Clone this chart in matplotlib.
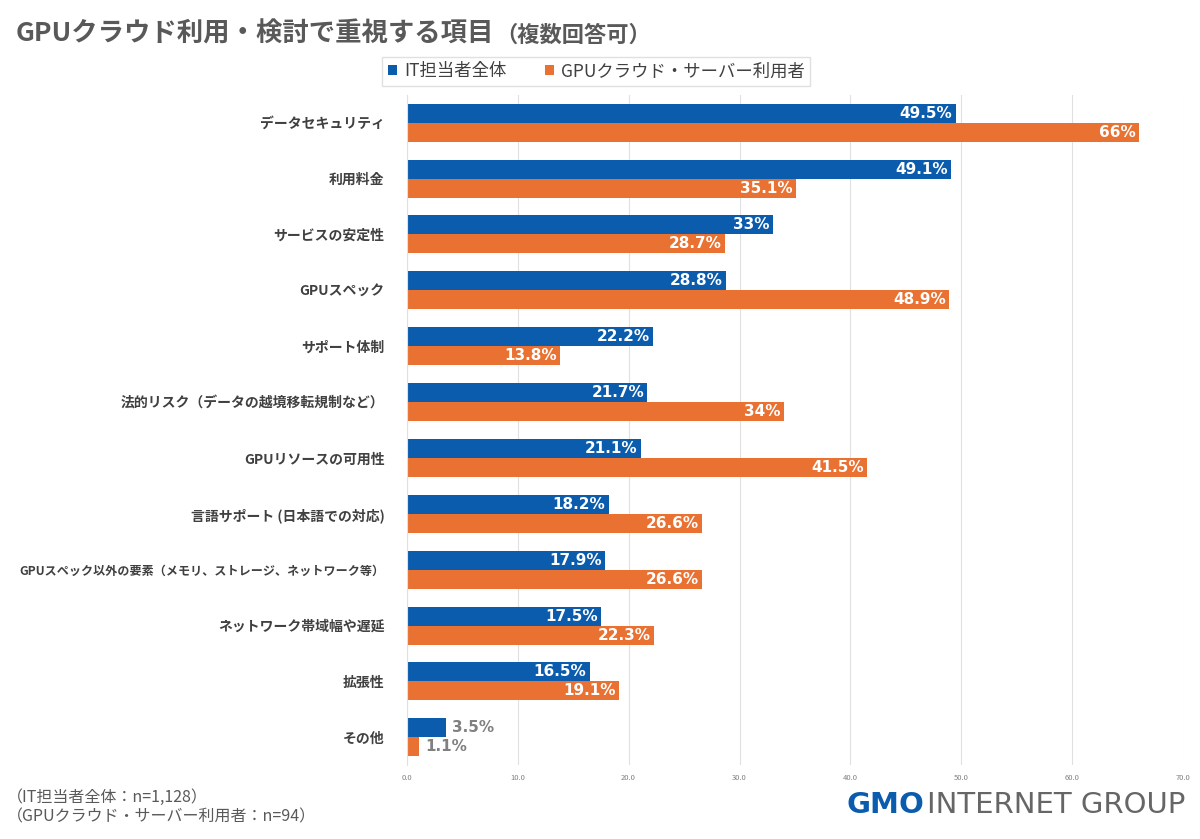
import numpy as np
import matplotlib.pyplot as plt

plt.rcParams['font.family'] = ['Noto Sans CJK JP', 'DejaVu Sans']

# データ
categories = ['データセキュリティ', '利用料金', 'サービスの安定性', 'GPUスペック', 'サポート体制',
              '法的リスク（データの越境移転規制など）', 'GPUリソースの可用性',
              '言語サポート (日本語での対応)', 'GPUスペック以外の要素（メモリ、ストレージ、ネットワーク等）',
              'ネットワーク帯域幅や遅延', '拡張性', 'その他']
it_all = [49.5, 49.1, 33, 28.8, 22.2, 21.7, 21.1, 18.2, 17.9, 17.5, 16.5, 3.5]
gpu_users = [66, 35.1, 28.7, 48.9, 13.8, 34, 41.5, 26.6, 26.6, 22.3, 19.1, 1.1]
series_names = ['IT担当者全体', 'GPUクラウド・サーバー利用者']
xticks = [0, 10, 20, 30, 40, 50, 60, 70]

blue = '#0B5CAD'
orange = '#E97132'
dark = '#404040'

fig = plt.figure(figsize=(12, 8.39), dpi=100)
ax = fig.add_axes([0.339, 0.088, 0.647, 0.799])

y = np.arange(len(categories))
h = 0.34
b1 = ax.barh(y - h / 2, it_all, height=h, color=blue, label=series_names[0])
b2 = ax.barh(y + h / 2, gpu_users, height=h, color=orange, label=series_names[1])

def fmt(v):
    return f'{v:g}%'

for bars, vals in [(b1, it_all), (b2, gpu_users)]:
    for bar, v in zip(bars, vals):
        cy = bar.get_y() + bar.get_height() / 2
        if v < 5:
            ax.text(v + 0.6, cy, fmt(v), ha='left', va='center', color='#808080',
                    fontsize=11, fontweight='bold', family='DejaVu Sans')
        else:
            ax.text(v - 0.3, cy, fmt(v), ha='right', va='center', color='white',
                    fontsize=11, fontweight='bold', family='DejaVu Sans')

ax.set_xlim(0, 70)
ax.set_ylim(len(categories) - 0.5, -0.5)
ax.set_xticks(xticks)
ax.set_xticklabels([f'{t:.1f}' for t in xticks], fontsize=5.5, color='#808080')
ax.set_yticks(y)
ax.set_yticklabels(categories, fontsize=10, fontweight='bold', color=dark)
for lbl in ax.get_yticklabels():
    if len(lbl.get_text()) > 25:
        lbl.set_fontsize(8.7)
ax.tick_params(axis='y', length=0, pad=16)
ax.tick_params(axis='x', length=0, pad=6)
ax.grid(axis='x', color='#E0E0E0', linewidth=0.8)
ax.set_axisbelow(True)
for s in ['top', 'right', 'bottom']:
    ax.spines[s].set_visible(False)
ax.spines['left'].set_color('#E0E0E0')

# 凡例
leg = fig.legend(handles=[b1, b2], labels=series_names, loc='center',
                 bbox_to_anchor=(0.497, 0.915), ncol=2, fontsize=12.5,
                 frameon=True, fancybox=False, edgecolor='#D9D9D9',
                 handlelength=0.55, handleheight=0.55, handletextpad=0.4,
                 columnspacing=2.2, borderpad=0.3)
for t in leg.get_texts():
    t.set_color(dark)

# タイトル
t1 = fig.text(0.013, 0.96, 'GPUクラウド利用・検討で重視する項目', fontsize=19,
              fontweight='bold', color='#595959', va='center', ha='left')
fig.canvas.draw()
bb = t1.get_window_extent().transformed(fig.transFigure.inverted())
fig.text(bb.x1 + 0.001, 0.958, '（複数回答可）', fontsize=16, fontweight='bold',
         color='#595959', va='center', ha='left')

# 注記
fig.text(0.006, 0.05, '（IT担当者全体：n=1,128）', fontsize=11.5, color='#595959', va='center')
fig.text(0.006, 0.026, '（GPUクラウド・サーバー利用者：n=94）', fontsize=11.5, color='#595959', va='center')

# ロゴ
t3 = fig.text(0.988, 0.04, 'INTERNET GROUP', fontsize=21, color='#666666', va='center',
              ha='right', family='Liberation Sans Narrow')
fig.canvas.draw()
bb3 = t3.get_window_extent().transformed(fig.transFigure.inverted())
fig.text(bb3.x0 - 0.002, 0.04, 'GMO', fontsize=21, color=blue, va='center', ha='right',
         fontweight='heavy', family='DejaVu Sans')

fig.savefig('out.png', dpi=100)
